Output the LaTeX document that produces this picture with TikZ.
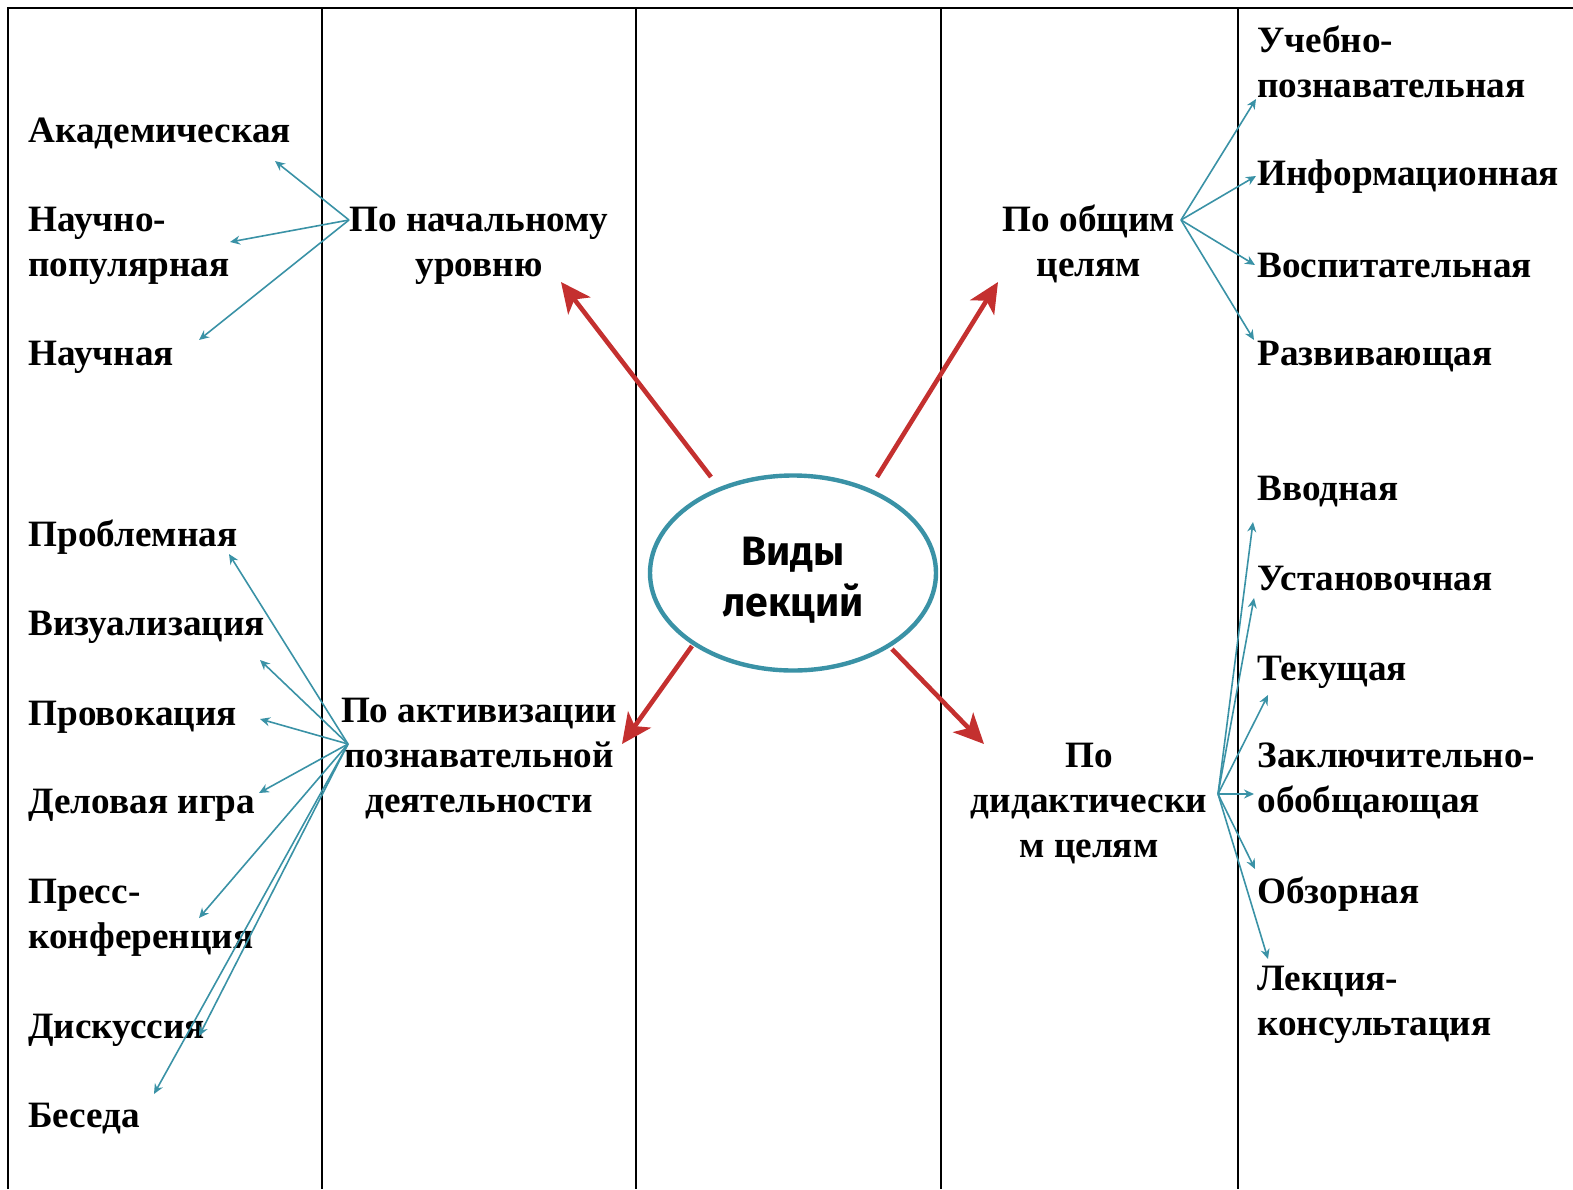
\documentclass[tikz,border=0pt]{standalone}
\usepackage{fontspec}
\setmainfont{Liberation Serif}
\newfontfamily\centerfont{Fira Sans}
\usetikzlibrary{arrows.meta,shapes.geometric}
\definecolor{tealc}{RGB}{58,146,166}
\definecolor{redc}{RGB}{196,48,47}
\begin{document}
\begin{tikzpicture}[x=0.5pt,y=-0.5pt,
  lbl/.style={font=\fontsize{18.6}{22.3}\selectfont\bfseries, inner sep=0pt, anchor=base west, align=left},
  mid/.style={font=\fontsize{18.6}{22.3}\selectfont\bfseries, inner sep=0pt, anchor=base, align=center},
  tarrow/.style={draw=tealc, line width=0.8pt, -{Stealth[length=5pt,width=4.5pt]}},
  rarrow/.style={draw=redc, line width=2.3pt, -{Stealth[length=15pt,width=14pt,inset=4pt]}},
  gridline/.style={draw=black, line width=1pt}]
\useasboundingbox (0,0) rectangle (1573,1189);
% table
\draw[gridline] (8,1189) -- (8,8) -- (1573,8);
\foreach \xx in {322,636,941,1238} \draw[gridline] (\xx,8) -- (\xx,1189);

% centre
\node[ellipse, draw=tealc, line width=2.2pt, fill=white, minimum width=143pt, minimum height=97.5pt, inner sep=0pt] (c) at (793,573) {};
\node[font=\centerfont\fontsize{20.5}{25.5}\selectfont\bfseries, align=center, inner sep=0pt, anchor=base] (ct) at (793,616) {Виды\\лекций};

% category labels (anchor = baseline of last line)
\node[mid] (g1) at (479,276) {По начальному\\уровню};
\node[mid] (g2) at (1089,276) {По общим\\целям};
\node[mid] (g3) at (479,812) {По активизации\\познавательной\\деятельности};
\node[mid] (g4) at (1089,857) {По\\дидактически\\м целям};

% left top
\node[lbl] (a1) at (28,142) {Академическая};
\node[lbl] (a2) at (28,276) {Научно-\\популярная};
\node[lbl] (a3) at (28,365) {Научная};
% left bottom
\node[lbl] (b1) at (28,546) {Проблемная};
\node[lbl] (b2) at (28,635) {Визуализация};
\node[lbl] (b3) at (28,725) {Провокация};
\node[lbl] (b4) at (28,813) {Деловая игра};
\node[lbl] (b5) at (28,948) {Пресс-\\конференция};
\node[lbl] (b6) at (28,1038) {Дискуссия};
\node[lbl] (b7) at (28,1127) {Беседа};
% right top
\node[lbl] (d1) at (1257,97) {Учебно-\\познавательная};
\node[lbl] (d2) at (1257,185) {Информационная};
\node[lbl] (d3) at (1257,277) {Воспитательная};
\node[lbl] (d4) at (1257,365) {Развивающая};
% right bottom
\node[lbl] (e1) at (1257,500) {Вводная};
\node[lbl] (e2) at (1257,590) {Установочная};
\node[lbl] (e3) at (1257,680) {Текущая};
\node[lbl] (e4) at (1257,812) {Заключительно-\\обобщающая};
\node[lbl] (e5) at (1257,903) {Обзорная};
\node[lbl] (e6) at (1257,1035) {Лекция-\\консультация};

% red arrows
\coordinate (r1s) at (711,477); \coordinate (r1e) at (561,282);
\coordinate (r2s) at (877,477); \coordinate (r2e) at (998,282);
\coordinate (r3s) at (692,646); \coordinate (r3e) at (622,744);
\coordinate (r4s) at (892,649); \coordinate (r4e) at (984,744);
\draw[rarrow] (r1s) -- (r1e);
\draw[rarrow] (r2s) -- (r2e);
\draw[rarrow] (r3s) -- (r3e);
\draw[rarrow] (r4s) -- (r4e);

% teal fans
\coordinate (s1) at (349,220);
\coordinate (s2) at (1181,220);
\coordinate (s3) at (348,744);
\coordinate (s4) at (1218,794);

\coordinate (ta1) at (275,161);
\coordinate (ta2) at (230,242);
\coordinate (ta3) at (199,340);
\foreach \t in {ta1,ta2,ta3} \draw[tarrow] (s1) -- (\t);

\coordinate (tb1) at (229,554);
\coordinate (tb2) at (260,660);
\coordinate (tb3) at (260,719);
\coordinate (tb4) at (259,793);
\coordinate (tb5) at (199,918);
\coordinate (tb6) at (199,1036);
\coordinate (tb7) at (154,1094);
\foreach \t in {tb1,tb2,tb3,tb4,tb5,tb6,tb7} \draw[tarrow] (s3) -- (\t);

\coordinate (td1) at (1256,99);
\coordinate (td2) at (1256,176);
\coordinate (td3) at (1255,265);
\coordinate (td4) at (1254,340);
\foreach \t in {td1,td2,td3,td4} \draw[tarrow] (s2) -- (\t);

\coordinate (te1) at (1253,522);
\coordinate (te2) at (1254,598);
\coordinate (te3) at (1268,695);
\coordinate (te4) at (1254,794);
\coordinate (te5) at (1255,869);
\coordinate (te6) at (1268,959);
\foreach \t in {te1,te2,te3,te4,te5,te6} \draw[tarrow] (s4) -- (\t);
\end{tikzpicture}
\end{document}
